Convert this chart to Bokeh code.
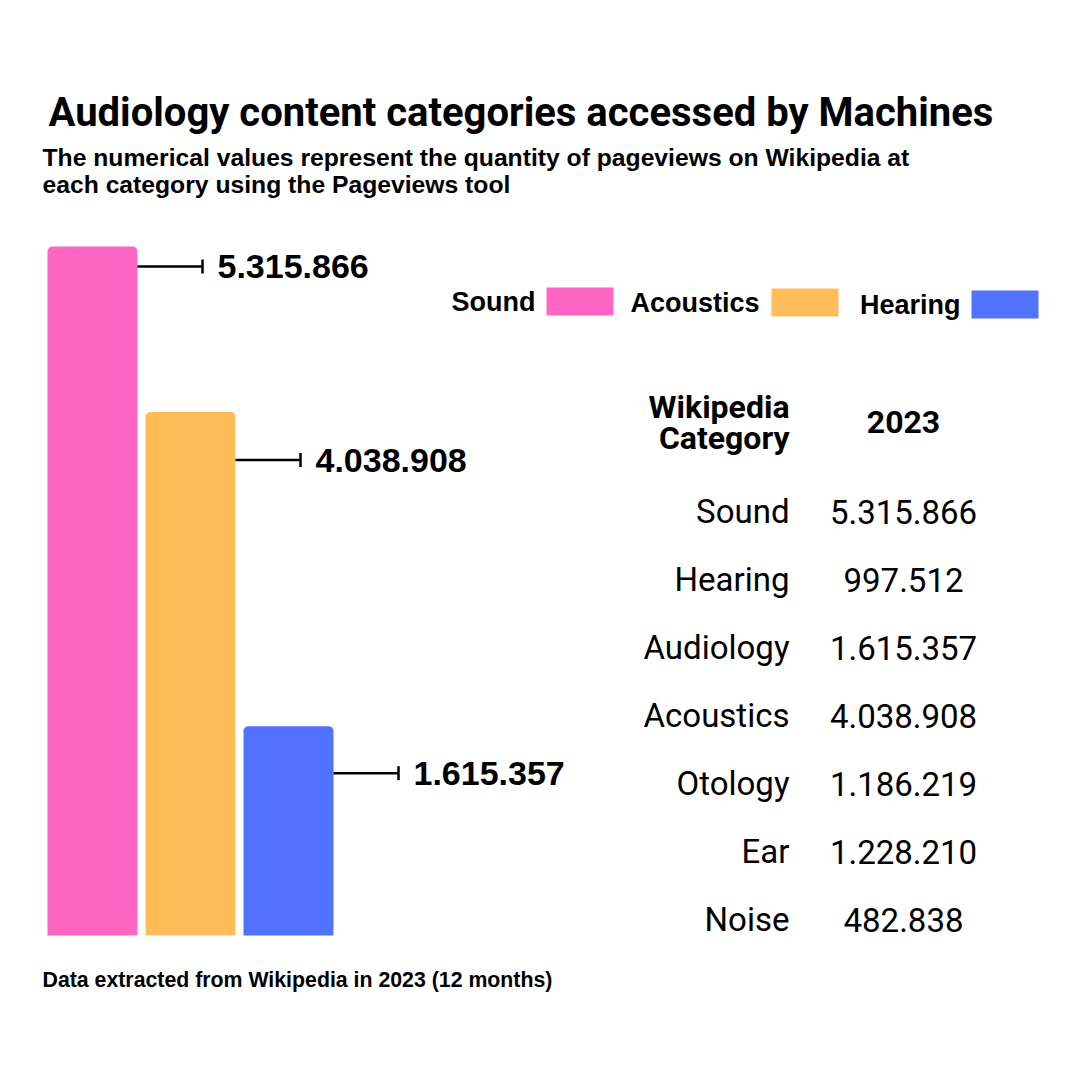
from bokeh.plotting import figure
from bokeh.models import Range1d, ColumnDataSource
from bokeh.core.properties import value
from bokeh.embed import file_html
from bokeh.resources import INLINE

# data
bar_names = ["Sound", "Acoustics", "Hearing"]
bar_values = [5315866, 4038908, 1615357]
bar_labels = ["5.315.866", "4.038.908", "1.615.357"]
bar_colors = ["#FF66C4", "#FFBD59", "#5271FF"]

table_categories = ["Sound", "Hearing", "Audiology", "Acoustics", "Otology", "Ear", "Noise"]
table_values = ["5.315.866", "997.512", "1.615.357", "4.038.908", "1.186.219", "1.228.210", "482.838"]

title = "Audiology content categories accessed by Machines"
subtitle = ["The numerical values represent the quantity of pageviews on Wikipedia at",
            "each category using the Pageviews tool"]
footer = "Data extracted from Wikipedia in 2023 (12 months)"

# layout (page pixel coordinates, y downwards for the "px" range)
W = H = 1064
base_px, top_px = 935, 246          # bar baseline and top of the largest bar
k = max(bar_values) / (base_px - top_px)   # value per pixel
bar_x = [92, 190, 288]
bar_w = 90
leader_drop = [20, 48, 47]          # px below bar top where the leader sits

p = figure(width=W, height=H, output_backend="svg", toolbar_location=None,
           x_range=Range1d(0, W),
           y_range=Range1d(-(H - base_px) * k, base_px * k),
           min_border=0, outline_line_color=None)
p.extra_y_ranges = {"px": Range1d(H, 0)}
p.axis.visible = False
p.grid.visible = False
p.background_fill_color = "white"

# bars
p.vbar(x=bar_x, width=bar_w, bottom=0, top=bar_values, fill_color=bar_colors,
       line_color=None, border_radius={"top_left": 5, "top_right": 5,
                                       "bottom_left": 0, "bottom_right": 0})

# leader lines with end caps
ly = [v - d * k for v, d in zip(bar_values, leader_drop)]
x0 = [x + bar_w / 2 for x in bar_x]
x1 = [x + 65 for x in x0]
p.segment(x0=x0, y0=ly, x1=x1, y1=ly, line_color="black", line_width=2.5)
p.segment(x0=x1, y0=[y - 7 * k for y in ly], x1=x1, y1=[y + 7 * k for y in ly],
          line_color="black", line_width=2.5)
p.text(x=[x + 15 for x in x1], y=ly, text=bar_labels,
       text_font=value("Liberation Sans"), text_font_style="bold",
       text_font_size="34px", text_baseline="middle", text_color="black")

# title block
p.text(x=[48], y=[112], text=[title], y_range_name="px",
       text_font=value("Roboto"), text_font_style="bold",
       text_font_size="40px", text_baseline="middle", text_color="black")
p.text(x=[42, 42], y=[157, 184], text=subtitle, y_range_name="px",
       text_font=value("Liberation Sans"), text_font_style="bold",
       text_font_size="24.7px", text_baseline="middle", text_color="black")
p.text(x=[42], y=[979], text=[footer], y_range_name="px",
       text_font=value("Liberation Sans"), text_font_style="bold",
       text_font_size="21.3px", text_baseline="middle", text_color="black")

# legend (label left of swatch)
leg_text_r = [535, 759, 960]
leg_sw_l = [546, 771, 971]
leg_top = [287, 288, 290]
p.text(x=leg_text_r, y=[t + 14 for t in leg_top], text=bar_names, y_range_name="px",
       text_font=value("Liberation Sans"), text_font_style="bold",
       text_font_size="27px", text_align="right", text_baseline="middle")
p.quad(left=leg_sw_l, right=[l + 67 for l in leg_sw_l], top=leg_top,
       bottom=[t + 28 for t in leg_top], fill_color=bar_colors, line_color=None,
       y_range_name="px")

# table
p.text(x=[789, 789], y=[406, 437], text=["Wikipedia", "Category"], y_range_name="px",
       text_font=value("Roboto"), text_font_style="bold", text_font_size="32px",
       text_align="right", text_baseline="middle")
p.text(x=[903], y=[421], text=["2023"], y_range_name="px",
       text_font=value("Roboto"), text_font_style="bold", text_font_size="32px",
       text_align="center", text_baseline="middle")
row_y = [511 + 68 * i for i in range(len(table_categories))]
src = ColumnDataSource(dict(y=row_y, cat=table_categories, val=table_values))
p.text(x=789, y="y", text="cat", source=src, y_range_name="px",
       text_font=value("Roboto"), text_font_size="33px",
       text_align="right", text_baseline="middle")
p.text(x=903, y="y", text="val", source=src, y_range_name="px",
       text_font=value("Roboto"), text_font_size="33px",
       text_align="center", text_baseline="middle")

open("out.html", "w").write(file_html(p, INLINE))
